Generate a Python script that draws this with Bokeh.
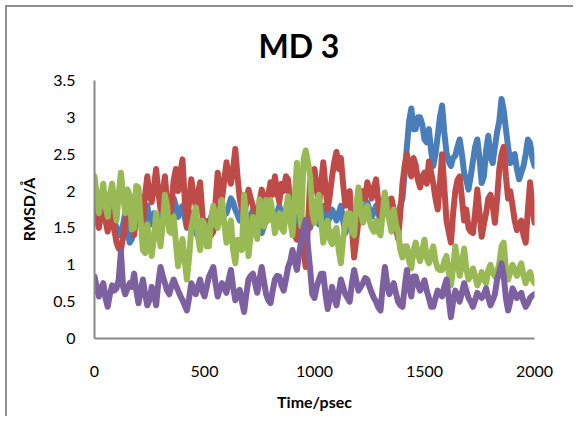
from bokeh.plotting import figure
from bokeh.models import FixedTicker, Range1d
from bokeh.embed import file_html
from bokeh.resources import INLINE

# ---- data (every 10 psec) ----
time_ps = list(range(0, 2001, 10))

blue = [
    1.80, 1.88, 1.65, 1.75, 1.85, 1.65, 1.55, 1.70, 1.75, 1.60, 1.50, 1.40, 1.45, 1.55, 1.70, 1.45, 1.30, 1.35, 1.55, 1.65,
    1.75, 1.60, 1.50, 1.65, 1.80, 1.60, 1.55, 1.70, 1.65, 1.52, 1.60, 1.75, 1.85, 1.70, 1.60, 1.75, 1.90, 1.80, 1.65, 1.75,
    1.80, 1.65, 1.50, 1.60, 1.70, 1.55, 1.45, 1.38, 1.34, 1.40, 1.60, 1.55, 1.50, 1.65, 1.75, 1.60, 1.55, 1.58, 1.61, 1.68,
    1.70, 1.80, 1.90, 1.85, 1.75, 1.68, 1.60, 1.70, 1.80, 1.65, 1.55, 1.65, 1.75, 1.62, 1.50, 1.45, 1.43, 1.52, 1.60, 1.70,
    1.75, 1.62, 1.55, 1.70, 1.80, 1.70, 1.60, 1.68, 1.75, 1.62, 1.55, 1.60, 1.65, 1.50, 1.34, 1.45, 1.60, 1.55, 1.50, 1.62,
    1.70, 1.62, 1.55, 1.68, 1.80, 1.68, 1.57, 1.65, 1.75, 1.68, 1.60, 1.70, 1.80, 1.60, 1.43, 1.52, 1.65, 1.58, 1.50, 1.62,
    1.75, 1.68, 1.60, 1.72, 1.85, 1.75, 1.65, 1.72, 1.80, 1.70, 1.60, 1.75, 1.90, 1.80, 1.70, 1.72, 1.75, 1.70, 1.65, 1.80,
    1.90, 2.25, 2.60, 2.95, 3.12, 2.84, 2.84, 3.00, 3.00, 2.90, 2.70, 2.66, 2.84, 2.55, 2.34, 2.50, 2.75, 3.00, 3.16, 2.80,
    2.52, 2.40, 2.34, 2.45, 2.48, 2.60, 2.70, 2.50, 2.25, 2.15, 2.02, 2.20, 2.40, 2.60, 2.70, 2.45, 2.11, 2.20, 2.55, 2.75,
    2.45, 2.38, 2.60, 2.80, 2.95, 3.25, 3.10, 2.84, 2.60, 2.38, 2.48, 2.50, 2.30, 2.16, 2.25, 2.34, 2.50, 2.70, 2.65, 2.45,
    2.34,
]

red = [
    1.75, 1.62, 1.50, 1.72, 1.90, 1.60, 1.45, 1.58, 1.70, 1.48, 1.30, 1.22, 1.20, 1.38, 1.55, 1.70, 1.85, 1.60, 1.40, 1.68,
    1.90, 1.70, 1.55, 1.95, 2.20, 1.95, 1.85, 2.05, 2.30, 2.00, 1.75, 1.98, 2.20, 1.85, 1.57, 1.80, 2.15, 2.30, 2.00, 2.25,
    2.43, 1.90, 1.52, 1.85, 2.16, 1.95, 1.80, 1.95, 2.12, 1.70, 1.34, 1.50, 1.60, 1.40, 1.45, 1.85, 2.25, 2.05, 1.90, 2.15,
    2.39, 2.20, 2.10, 2.30, 2.57, 2.20, 1.90, 1.75, 1.65, 1.85, 2.02, 1.90, 1.80, 1.70, 1.60, 1.85, 2.02, 1.90, 1.75, 1.95,
    2.12, 1.95, 2.20, 2.00, 1.85, 2.10, 2.00, 2.20, 2.16, 1.80, 1.60, 1.40, 1.34, 1.50, 1.60, 1.20, 0.97, 1.50, 2.12, 2.00,
    2.30, 2.05, 1.80, 2.10, 2.39, 2.05, 1.75, 1.95, 2.20, 2.40, 2.53, 2.30, 2.45, 2.10, 1.80, 1.95, 2.00, 1.50, 1.10, 1.35,
    1.60, 1.85, 2.00, 1.90, 2.12, 2.00, 1.90, 2.05, 2.16, 1.85, 1.60, 1.80, 1.95, 1.80, 1.70, 1.90, 1.75, 1.50, 1.35, 1.70,
    2.10, 2.35, 2.50, 2.30, 2.20, 2.45, 2.35, 2.15, 2.05, 2.20, 2.25, 2.10, 2.40, 2.25, 2.10, 1.90, 1.75, 2.10, 2.50, 2.05,
    1.60, 1.45, 1.30, 1.70, 2.00, 2.15, 2.20, 1.90, 1.60, 1.75, 1.50, 1.45, 1.43, 1.70, 2.02, 1.70, 1.38, 1.55, 1.70, 1.90,
    1.95, 1.80, 1.57, 1.90, 2.30, 2.50, 2.60, 2.20, 1.90, 2.00, 1.80, 1.60, 1.47, 1.55, 1.60, 1.40, 1.30, 1.75, 2.12, 1.80,
    1.57,
]

green = [
    2.20, 1.95, 1.70, 1.90, 2.10, 1.80, 1.65, 1.95, 2.10, 1.85, 1.60, 1.95, 2.25, 1.95, 1.70, 2.02, 1.95, 1.48, 1.50, 2.07,
    2.05, 1.60, 1.20, 1.16, 1.55, 1.30, 1.12, 1.35, 1.70, 1.50, 1.25, 1.55, 1.95, 1.80, 1.45, 1.43, 1.65, 1.30, 0.98, 1.20,
    1.35, 1.05, 0.80, 1.10, 1.50, 1.65, 1.78, 1.40, 1.20, 1.60, 1.55, 1.25, 1.25, 1.60, 1.80, 1.55, 1.50, 1.75, 1.88, 1.55,
    1.30, 1.50, 1.60, 1.20, 1.02, 1.34, 1.30, 1.20, 1.95, 1.60, 1.12, 1.40, 1.65, 1.50, 1.35, 1.89, 1.75, 1.52, 1.88, 1.60,
    1.88, 1.70, 1.43, 1.55, 1.70, 1.50, 1.45, 1.75, 1.93, 1.60, 1.40, 1.90, 2.38, 1.80, 1.52, 2.43, 2.55, 2.40, 2.20, 1.70,
    1.57, 1.85, 1.95, 1.60, 1.30, 1.50, 1.60, 1.35, 1.28, 1.45, 1.50, 1.20, 1.02, 1.35, 1.57, 1.70, 1.70, 1.45, 1.40, 1.80,
    2.05, 1.75, 1.57, 1.70, 1.80, 1.60, 1.50, 1.45, 1.60, 1.45, 1.40, 1.70, 1.98, 1.75, 1.60, 1.45, 1.75, 1.55, 1.45, 1.20,
    1.10, 1.25, 1.25, 1.05, 0.95, 1.20, 1.30, 1.15, 1.05, 1.20, 1.34, 1.10, 1.02, 1.15, 1.25, 1.05, 0.95, 0.93, 0.93, 1.05,
    1.12, 0.90, 0.72, 0.95, 1.25, 1.05, 0.85, 1.00, 1.22, 0.95, 0.80, 0.85, 0.95, 0.85, 0.72, 0.80, 0.90, 0.80, 0.75, 0.93,
    1.00, 0.90, 0.84, 0.90, 1.02, 1.25, 1.30, 0.95, 0.80, 0.90, 1.00, 0.92, 0.85, 0.95, 1.02, 0.85, 0.75, 0.85, 0.90, 0.80,
    0.75,
]

purple = [
    0.84, 0.70, 0.57, 0.68, 0.75, 0.55, 0.43, 0.60, 0.72, 0.65, 0.68, 0.80, 1.18, 0.70, 0.60, 0.68, 0.75, 0.70, 0.88, 0.65,
    0.48, 0.65, 0.80, 0.60, 0.45, 0.52, 0.70, 0.62, 0.45, 0.75, 0.97, 0.85, 0.75, 0.65, 0.60, 0.72, 0.80, 0.72, 0.65, 0.58,
    0.52, 0.45, 0.38, 0.55, 0.75, 0.68, 0.60, 0.70, 0.80, 0.65, 0.57, 0.70, 0.84, 0.90, 0.97, 0.75, 0.57, 0.68, 0.75, 0.68,
    0.62, 0.80, 0.93, 0.70, 0.52, 0.60, 0.66, 0.50, 0.36, 0.60, 0.80, 0.85, 0.88, 0.75, 0.62, 0.80, 0.97, 0.78, 0.60, 0.52,
    0.48, 0.65, 0.80, 0.85, 0.84, 0.72, 0.65, 0.80, 0.97, 1.05, 1.20, 1.05, 0.93, 1.15, 1.34, 1.50, 1.61, 1.25, 0.95, 0.60,
    0.55, 0.70, 0.80, 0.88, 0.88, 0.60, 0.40, 0.55, 0.70, 0.55, 0.45, 0.62, 0.80, 0.70, 0.60, 0.55, 0.50, 0.75, 0.93, 0.78,
    0.65, 0.70, 0.75, 0.82, 0.80, 0.70, 0.62, 0.55, 0.50, 0.42, 0.38, 0.70, 0.97, 0.75, 0.60, 0.68, 0.75, 0.62, 0.50, 0.45,
    0.43, 0.70, 0.93, 0.70, 0.57, 0.84, 0.84, 0.72, 0.65, 0.72, 0.79, 0.65, 0.55, 0.43, 0.43, 0.55, 0.65, 0.60, 0.57, 0.70,
    0.80, 0.55, 0.29, 0.50, 0.65, 0.58, 0.50, 0.62, 0.75, 0.65, 0.55, 0.50, 0.43, 0.52, 0.62, 0.58, 0.55, 0.60, 0.68, 0.55,
    0.45, 0.52, 0.60, 0.80, 0.90, 1.02, 0.85, 0.55, 0.38, 0.50, 0.68, 0.62, 0.55, 0.58, 0.62, 0.50, 0.43, 0.48, 0.55, 0.58,
    0.60,
]

x_ticks = [0, 500, 1000, 1500, 2000]
x_tick_labels = ["0", "500", "1000", "1500", "2000"]
y_ticks = [0, 0.5, 1, 1.5, 2, 2.5, 3, 3.5]
y_tick_labels = ["0", "0.5", "1", "1.5", "2", "2.5", "3", "3.5"]

title_text = "MD 3"
x_title = "Time/psec"
y_title = "RMSD/Å"

series = [
    (blue, "#4A7EBB"),
    (red, "#BE4B48"),
    (green, "#98B954"),
    (purple, "#7D60A0"),
]

FONT = "Lato"

p = figure(
    width=568, height=411,
    output_backend="svg", toolbar_location=None,
    x_range=Range1d(0, 2000), y_range=Range1d(0, 3.5),
    min_border_left=87, min_border_right=41,
    min_border_top=60, min_border_bottom=80,
    title=title_text,
)
p.margin = (5, 0, 0, 5)
p.styles = {"border-left": "2px solid #8e8e8e", "border-top": "2px solid #8e8e8e"}

for ys, col in series:
    p.line(time_ps, ys, line_color=col, line_width=6,
           line_join="round", line_cap="round")

p.title.align = "left"
p.title.offset = 164
p.title.text_font = FONT
p.title.text_font_size = "32px"
p.title.text_font_style = "bold"
p.title.text_color = "#000000"
p.title.standoff = 32

p.xgrid.visible = False
p.ygrid.visible = False
p.outline_line_color = None
p.background_fill_color = "white"
p.border_fill_color = "white"

for ax in (p.xaxis[0], p.yaxis[0]):
    ax.axis_line_color = "#888888"
    ax.axis_line_width = 2
    ax.major_tick_line_color = None
    ax.minor_tick_line_color = None
    ax.major_tick_out = 0
    ax.major_tick_in = 0
    ax.minor_tick_out = 0
    ax.minor_tick_in = 0
    ax.major_label_text_font = FONT
    ax.major_label_text_font_size = "16px"
    ax.major_label_text_color = "#000000"
    ax.axis_label_text_font = FONT
    ax.axis_label_text_font_size = "16px"
    ax.axis_label_text_font_style = "bold"
    ax.axis_label_text_color = "#000000"

p.xaxis[0].ticker = FixedTicker(ticks=x_ticks)
p.xaxis[0].major_label_overrides = dict(zip(x_ticks, x_tick_labels))
p.xaxis[0].major_label_standoff = 27
p.xaxis[0].axis_label = x_title
p.xaxis[0].axis_label_standoff = 12

p.yaxis[0].ticker = FixedTicker(ticks=y_ticks)
p.yaxis[0].major_label_overrides = dict(zip(y_ticks, y_tick_labels))
p.yaxis[0].major_label_standoff = 19
p.yaxis[0].axis_label = y_title
p.yaxis[0].axis_label_standoff = 12

open("out.html", "w").write(file_html(p, INLINE))
